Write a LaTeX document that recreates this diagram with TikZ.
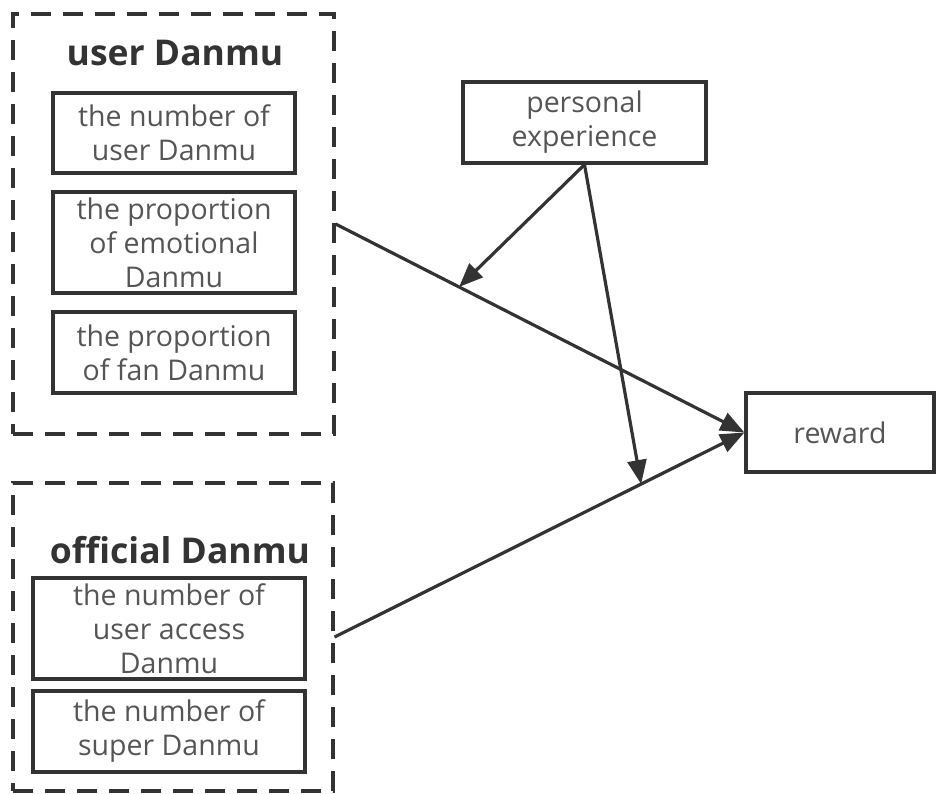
\documentclass[tikz,border=0pt]{standalone}
\usepackage{fontspec}
\setmainfont{Open Sans}
\usetikzlibrary{arrows.meta}
\definecolor{linec}{HTML}{333333}
\definecolor{textc}{HTML}{555555}
\tikzset{
  inbox/.style={draw=linec, line width=3.2pt, align=center, text=textc, inner sep=0pt,
    font=\fontsize{28.5}{34}\selectfont},
  group/.style={draw=linec, line width=3.2pt, dash pattern=on 20pt off 12pt, inner sep=0pt},
  gtitle/.style={text=linec, font=\fontsize{35.5}{40}\selectfont\bfseries},
  conn/.style={draw=linec, line width=3.2pt, -{Triangle[length=24pt,width=19pt]}},
}
\begin{document}
\begin{tikzpicture}[x=1pt,y=-1pt]
\useasboundingbox (0,0) rectangle (936,794);
% groups
\node[group, minimum width=321pt, minimum height=420pt] (ud) at (173.5,224) {};
\node[group, minimum width=320pt, minimum height=308pt] (od) at (173,637) {};
\node[gtitle] (udt) at (175,53) {user Danmu};
\node[gtitle] (odt) at (180,550) {official Danmu};
% inner boxes
\node[inbox, minimum width=242pt, minimum height=80pt] (b1) at (174,133) {the number of\\user Danmu};
\node[inbox, minimum width=242pt, minimum height=101pt] (b2) at (174,242.5) {the proportion\\of emotional\\Danmu};
\node[inbox, minimum width=242pt, minimum height=81pt] (b3) at (174,352.5) {the proportion\\of fan Danmu};
\node[inbox, minimum width=272pt, minimum height=101pt] (b4) at (169,628.5) {the number of\\user access\\Danmu};
\node[inbox, minimum width=272pt, minimum height=81pt] (b5) at (169,731.5) {the number of\\super Danmu};
% right side
\node[inbox, minimum width=243pt, minimum height=81pt] (pe) at (584.5,122.5) {personal\\experience};
\node[inbox, minimum width=188pt, minimum height=79pt] (rw) at (840,432.5) {reward};
% connectors
\draw[conn] (ud.east) -- coordinate[pos=0.302] (m1) (rw.west);
\draw[conn] (od.east) -- coordinate[pos=0.748] (m2) (rw.west);
\draw[conn] (pe.south) -- (m1);
\draw[conn] (pe.south) -- (m2);
\end{tikzpicture}
\end{document}
